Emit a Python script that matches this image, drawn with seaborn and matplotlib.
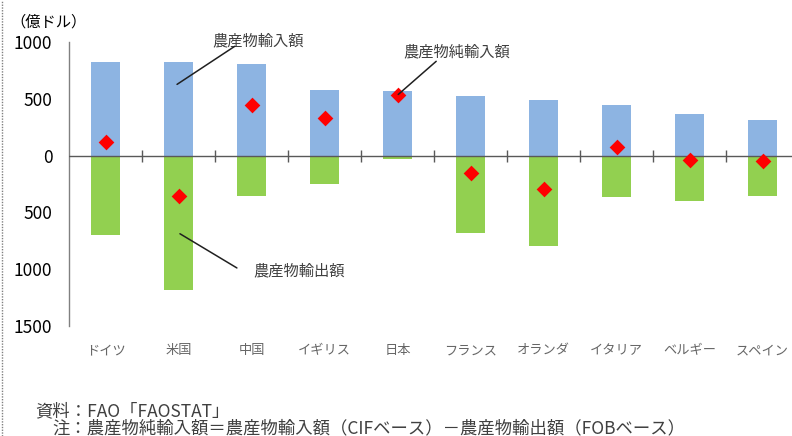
import matplotlib
matplotlib.use("Agg")
import matplotlib.pyplot as plt
from matplotlib.lines import Line2D
import seaborn as sns
import pandas as pd

countries = ["ドイツ", "米国", "中国", "イギリス", "日本", "フランス", "オランダ", "イタリア", "ベルギー", "スペイン"]
imports = [827, 821, 806, 580, 565, 523, 492, 444, 368, 312]
exports = [703, 1183, 359, 247, 29, 682, 792, 364, 403, 359]
net_imports = [124, -360, 445, 333, 534, -155, -297, 80, -38, -50]
ytick_values = [1000, 500, 0, -500, -1000, -1500]
ytick_labels = ["1000", "500", "0", "500", "1000", "1500"]

df = pd.DataFrame({
    "country": countries,
    "import": imports,
    "export_neg": [-v for v in exports],
    "net": net_imports,
})

sns.set_style("white")
plt.rcParams["font.family"] = ["Noto Sans CJK JP", "DejaVu Sans"]

W, H = 792, 436
fig = plt.figure(figsize=(W / 100, H / 100), dpi=100)
ax = fig.add_axes([69 / W, (H - 326) / H, (792 - 69) / W, 284 / H])

blue = "#8DB4E2"
green = "#92D050"

sns.barplot(data=df, x="country", y="import", color=blue, saturation=1,
            width=0.4, linewidth=0, ax=ax, zorder=2)
sns.barplot(data=df, x="country", y="export_neg", color=green, saturation=1,
            width=0.4, linewidth=0, ax=ax, zorder=2)
sns.stripplot(data=df, x="country", y="net", color="#FF0000", marker="D",
              size=8, jitter=False, linewidth=0, ax=ax, zorder=4)

ax.set_xlim(-0.5, -0.5 + (792 - 69) / 73)
ax.set_ylim(-1500, 1000)
ax.set_xlabel("")
ax.set_ylabel("")

# zero line with category-boundary ticks
ax.axhline(0, color="#595959", lw=1.0, zorder=3)
bounds = [i + 0.5 for i in range(len(countries) - 1)]
ax.plot(bounds, [0] * len(bounds), linestyle="none", marker="|",
        markersize=8, markeredgewidth=1.0, color="#595959", zorder=3)

for s in ["top", "right", "bottom"]:
    ax.spines[s].set_visible(False)
ax.spines["left"].set_color("#808080")
ax.spines["left"].set_linewidth(1.0)

ax.set_yticks(ytick_values)
ax.set_yticklabels(ytick_labels, fontsize=12.5, color="#000000")
ax.tick_params(axis="y", direction="in", length=4, color="#808080", pad=12)
ax.set_xticks(range(len(countries)))
ax.set_xticklabels(countries, fontsize=9.5, color="#666666")
ax.tick_params(axis="x", length=0, pad=13)

# unit label
fig.text(10 / W, 1 - 22 / H, "（億ドル）", fontsize=11, color="#000000",
         ha="left", va="center")

# annotations
ann_color = "#404040"
ax.plot([0.98, 1.77], [627, 962], color="#202020", lw=1.1, clip_on=False, zorder=5)
ax.text(1.47, 1006, "農産物輸入額", fontsize=11, color=ann_color, ha="left",
        va="center", clip_on=False)
ax.plot([4.01, 4.53], [538, 830], color="#202020", lw=1.1, clip_on=False, zorder=5)
ax.text(4.075, 909, "農産物純輸入額", fontsize=11, color=ann_color, ha="left",
        va="center", clip_on=False)
ax.plot([1.02, 1.80], [-688, -989], color="#202020", lw=1.1, clip_on=False, zorder=5)
ax.text(2.02, -1015, "農産物輸出額", fontsize=11, color=ann_color, ha="left",
        va="center", clip_on=False)

# footer notes
fig.text(35 / W, 1 - 411 / H, "資料：FAO「FAOSTAT」", fontsize=12.5,
         color="#404040", ha="left", va="center")
fig.text(52 / W, 1 - 428 / H,
         "注：農産物純輸入額＝農産物輸入額（CIFベース）－農産物輸出額（FOBベース）",
         fontsize=12.5, color="#404040", ha="left", va="center")

# dotted border on the left edge
fig.add_artist(Line2D([1.5 / W, 1.5 / W], [0, 1], transform=fig.transFigure,
                      color="#808080", lw=1, linestyle=(0, (1, 1))))

fig.savefig("out.png", dpi=100)
